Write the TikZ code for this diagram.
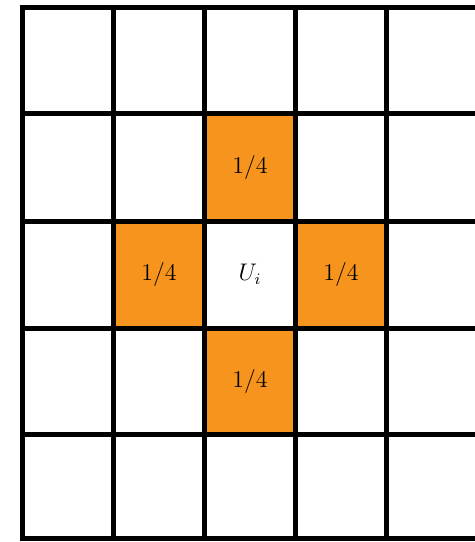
\documentclass[tikz,border=0pt]{standalone}
\usepackage{tikz}
\definecolor{cellorange}{RGB}{247,148,30}
\begin{document}
\begin{tikzpicture}[x=0.5pt,y=-0.5pt,
  gridline/.style={line width=2.5pt,black,line cap=rect},
  hot/.style={fill=cellorange,draw=none},
  lbl/.style={font=\large,inner sep=0pt}]
\useasboundingbox (0,0) rectangle (475,542);
\clip (0,0) rectangle (475,542);
% column and row lines
\def\xa{22.5}\def\xb{113.5}\def\xc{204.5}\def\xd{295.5}\def\xe{386.5}\def\xf{477.5}
\def\ya{7.5}\def\yb{113.5}\def\yc{221}\def\yd{328}\def\ye{434.5}\def\yf{538.5}
% orange cells
\fill[hot] (\xc,\yb) rectangle (\xd,\yc);
\fill[hot] (\xb,\yc) rectangle (\xc,\yd);
\fill[hot] (\xd,\yc) rectangle (\xe,\yd);
\fill[hot] (\xc,\yd) rectangle (\xd,\ye);
% grid
\foreach \x in {\xa,\xb,\xc,\xd,\xe,\xf}
  \draw[gridline] (\x,\ya) -- (\x,\yf);
\foreach \y in {\ya,\yb,\yc,\yd,\ye,\yf}
  \draw[gridline] (\xa,\y) -- (\xf,\y);
% labels
\node[lbl] (top) at (250,167.5) {1/4};
\node[lbl] (left) at (159,274.5) {1/4};
\node[lbl] (center) at (250,274.5) {$U_i$};
\node[lbl] (right) at (341,274.5) {1/4};
\node[lbl] (bottom) at (250,381) {1/4};
\end{tikzpicture}
\end{document}
